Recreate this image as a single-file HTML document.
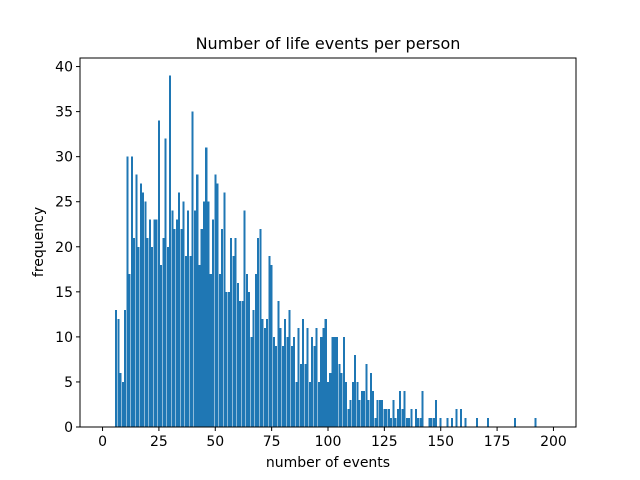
<!DOCTYPE html>
<html><head><meta charset="utf-8"><style>
html,body{margin:0;padding:0;background:#fff;}
svg{display:block;font-family:"DejaVu Sans","Liberation Sans",sans-serif;}
</style></head><body>
<svg id="chart" width="640" height="480" viewBox="0 0 640 480">
<rect width="640" height="480" fill="#fff"/>
<text x="328" y="49" text-anchor="middle" font-size="16" fill="#000">Number of life events per person</text>
<g id="bars" shape-rendering="crispEdges"></g>
<g id="xaxis"></g>
<g id="yaxis"></g>
<rect x="80" y="58" width="496" height="369" fill="none" stroke="#000" stroke-width="1"/>
<text x="328" y="467" text-anchor="middle" font-size="14" fill="#000">number of events</text>
<text transform="translate(43,242) rotate(-90)" text-anchor="middle" font-size="14" fill="#000">frequency</text>
</svg>
<script>
const categories = [6,7,8,9,10,11,12,13,14,15,16,17,18,19,20,21,22,23,24,25,26,27,28,29,30,31,32,33,34,35,36,37,38,39,40,41,42,43,44,45,46,47,48,49,50,51,52,53,54,55,56,57,58,59,60,61,62,63,64,65,66,67,68,69,70,71,72,73,74,75,76,77,78,79,80,81,82,83,84,85,86,87,88,89,90,91,92,93,94,95,96,97,98,99,100,101,102,103,104,105,106,107,108,109,110,111,112,113,114,115,116,117,118,119,120,121,122,123,124,125,126,127,128,129,130,131,132,133,134,135,136,137,139,140,141,142,145,146,147,148,150,153,155,157,159,161,166,171,183,192];
const values = [13,12,6,5,13,30,17,30,21,28,20,27,26,25,21,23,20,23,23,34,18,21,32,20,39,24,22,23,26,22,25,19,24,19,35,24,28,18,22,25,31,25,17,23,28,27,17,22,26,15,15,21,19,21,16,14,14,24,17,15,10,13,17,21,22,12,11,12,19,18,10,9,14,11,9,12,10,13,9,10,5,11,7,12,7,11,5,10,9,11,5,10,11,12,5,6,10,10,10,7,6,10,5,2,3,5,8,5,3,4,4,7,3,6,4,1,3,3,3,2,2,2,1,3,1,2,4,2,4,1,1,2,2,1,1,4,1,1,1,3,1,1,1,2,2,1,1,1,1,1];
const xTicks = [0,25,50,75,100,125,150,175,200];
const yTicks = [0,5,10,15,20,25,30,35,40];

const NS = "http://www.w3.org/2000/svg";
const L=80,R=576,T=58,B=427, XMIN=-10, XMAX=210, YMAX=40.95;
function xs(v){return L+(v-XMIN)/(XMAX-XMIN)*(R-L);}
function ys(v){return B-v/YMAX*(B-T);}
function mk(tag,attrs){const e=document.createElementNS(NS,tag);for(const k in attrs)e.setAttribute(k,attrs[k]);return e;}

const bars=document.getElementById('bars');
categories.forEach((c,i)=>{
  const x0=xs(c-0.45), x1=xs(c+0.45);
  const r=mk('rect',{x:x0,y:ys(values[i]),width:x1-x0,height:B-ys(values[i]),fill:'#1f77b4'});
  
  
  bars.appendChild(r);
});
const xa=document.getElementById('xaxis');
xTicks.forEach(t=>{
  const x=xs(t);
  const l=mk('line',{x1:x,x2:x,y1:B,y2:B+4,stroke:'#000','stroke-width':1});
  
  
  xa.appendChild(l);
  const tx=mk('text',{x:x,y:B+19,'text-anchor':'middle','font-size':14,fill:'#000'});
  
  
  tx.textContent=t;
  xa.appendChild(tx);
});
const ya=document.getElementById('yaxis');
yTicks.forEach(t=>{
  const y=ys(t);
  const l=mk('line',{x1:L-4,x2:L,y1:y,y2:y,stroke:'#000','stroke-width':1});
  
  
  ya.appendChild(l);
  const tx=mk('text',{x:L-7,y:y+5,'text-anchor':'end','font-size':14,fill:'#000'});
  
  
  tx.textContent=t;
  ya.appendChild(tx);
});
</script>
</body></html>
